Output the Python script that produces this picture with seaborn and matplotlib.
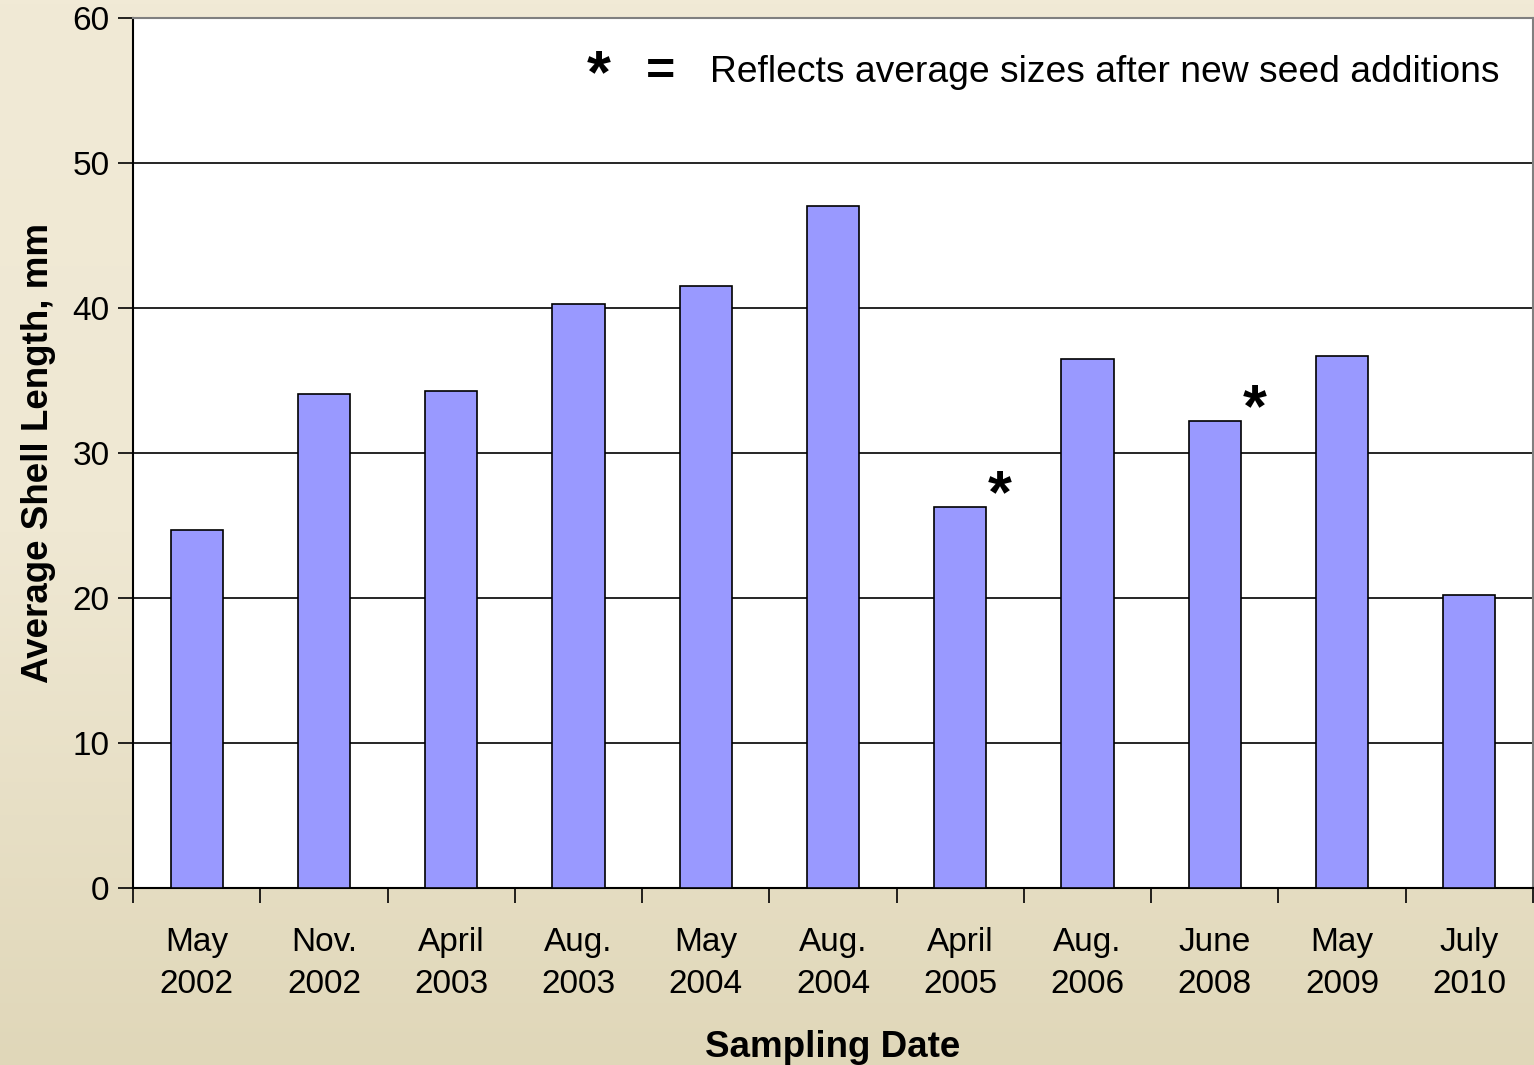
import numpy as np
import pandas as pd
import matplotlib
matplotlib.use('Agg')
import matplotlib.pyplot as plt
import seaborn as sns
from matplotlib.colors import LinearSegmentedColormap

# Data
months = ['May', 'Nov.', 'April', 'Aug.', 'May', 'Aug.', 'April', 'Aug.', 'June', 'May', 'July']
years = ['2002', '2002', '2003', '2003', '2004', '2004', '2005', '2006', '2008', '2009', '2010']
shell_length = [24.7, 34.1, 34.3, 40.3, 41.5, 47.0, 26.3, 36.5, 32.2, 36.7, 20.2]
seed_added = ['April\n2005', 'June\n2008']  # bars flagged with an asterisk

labels = [f'{m}\n{y}' for m, y in zip(months, years)]
df = pd.DataFrame({'date': labels, 'length': shell_length})

sns.set_style('white')
plt.rcParams['font.family'] = ['Liberation Sans', 'DejaVu Sans']
plt.rcParams['text.color'] = 'black'
plt.rcParams['axes.labelcolor'] = 'black'
plt.rcParams['xtick.color'] = 'black'
plt.rcParams['ytick.color'] = 'black'

fig = plt.figure(figsize=(15.34, 10.65), dpi=100)

# beige gradient background
bg = fig.add_axes([0, 0, 1, 1], zorder=-10)
grad = np.linspace(0, 1, 256).reshape(-1, 1)
cmap = LinearSegmentedColormap.from_list('bg', ['#F1EAD6', '#EFE8D3', '#E0D7B9'])
bg.imshow(grad, aspect='auto', cmap=cmap, extent=[0, 1, 0, 1])
bg.axis('off')

ax = fig.add_axes([0.0867, 0.1662, 0.9126, 0.8169])
ax.set_facecolor('white')

sns.barplot(data=df, x='date', y='length', color='#9999FF', edgecolor='black',
            linewidth=1.2, width=0.41, saturation=1, ax=ax, zorder=3)

ax.set_ylim(0, 60)
ax.set_xlim(-0.5, len(labels) - 0.5)
ax.set_yticks(range(0, 61, 10))
ax.yaxis.grid(True, color='black', linewidth=1.2, zorder=0)
ax.set_axisbelow(True)

# category boundary ticks on x
ax.set_xticks(np.arange(-0.5, len(labels), 1.0), minor=True)
ax.tick_params(axis='x', which='major', bottom=True, length=0, pad=28, labelsize=24)
ax.tick_params(axis='x', which='minor', bottom=True, length=11, width=1.2, direction='out')
ax.tick_params(axis='y', left=True, length=11, width=1.2, direction='out', labelsize=24, pad=6)
ax.set_xticklabels(labels, linespacing=1.45)

for side in ['left', 'bottom']:
    ax.spines[side].set_color('black')
    ax.spines[side].set_linewidth(1.5)
for side in ['top', 'right']:
    ax.spines[side].set_color('#808080')
    ax.spines[side].set_linewidth(1.5)

ax.set_xlabel('Sampling Date', fontsize=26.5, fontweight='bold', labelpad=22)
ax.set_ylabel('Average Shell Length, mm', fontsize=26.5, fontweight='bold', labelpad=12)

# asterisks marking new seed additions
for lab in seed_added:
    i = labels.index(lab)
    ax.text(i + 0.31, shell_length[i] + 0.7, '*', fontsize=44, fontweight='bold',
            ha='center', va='center', zorder=5)

ax.text(0.333, 0.932, '*', transform=ax.transAxes, fontsize=44, fontweight='bold',
        ha='center', va='center')
ax.text(0.377, 0.937, '=', transform=ax.transAxes, fontsize=36, fontweight='bold',
        ha='center', va='center')
ax.text(0.412, 0.937, 'Reflects average sizes after new seed additions', transform=ax.transAxes,
        fontsize=26.8, ha='left', va='center')

plt.savefig('out.png', dpi=100)
plt.close()
